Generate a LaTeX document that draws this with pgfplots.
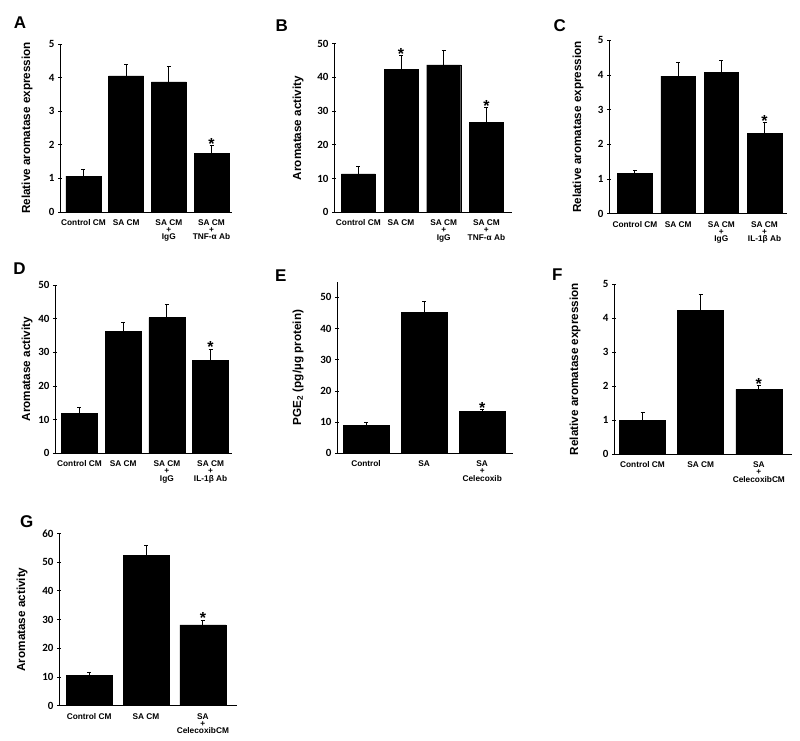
\documentclass[border=0pt]{standalone}
\usepackage{pgfplots}
\pgfplotsset{compat=1.18}
\usepackage{fontspec}
\setmainfont{Liberation Sans}
\newfontfamily\carlito{Carlito}
\begin{document}
\begin{tikzpicture}
\path (0pt,0pt) rectangle (800pt,-741pt);
\tikzset{
  lett/.style={font=\bfseries\fontsize{17}{17}\selectfont, anchor=center},
  star/.style={font=\bfseries\fontsize{16}{16}\selectfont, anchor=south, inner sep=0pt, yshift=-3.5pt},
}
\pgfplotsset{
  panel/.style={
    scale only axis,
    axis lines=left,
    axis line style={-, line width=0.9pt},
    ymin=0,
    xtick={1,2,3,4},
    xtick style={draw=none},
    ytick style={line width=0.8pt, black},
    tick align=center,
    major tick length=4pt,
    /pgf/number format/assume math mode=true,
    yticklabel style={font=\carlito\bfseries\fontsize{11}{11}\selectfont},
    xticklabel style={font=\bfseries\fontsize{8.3}{7.2}\selectfont, align=center},
    every axis y label/.style={at={(axis description cs:0,0.5)}, rotate=90, anchor=center, font=\bfseries\fontsize{11.7}{12}\selectfont},
    ybar,
  },
  bars/.style={fill=black, draw=black, bar width=#1,
    error bars/.cd, y dir=plus, y explicit,
    error bar style={line width=0.9pt, black},
    error mark options={rotate=90, mark size=2pt, line width=0.9pt, black}},
}

% Panel A
\begin{axis}[panel, at={(60pt,-212pt)}, anchor=south west, width=172pt, height=168pt,
  xmin=0.45, xmax=4.48, ymax=5, ytick={0,1,...,5},
  xticklabels={Control CM, SA CM, {SA CM\\+\\IgG}, {SA CM\\+\\TNF-α Ab}},
  ylabel={Relative aromatase expression},
  ylabel style={at={([xshift=-33pt]axis description cs:0,0.5)}}]
\addplot[bars=35pt] table[x=x, y=y, y error=e] {
x y e
1 1.07 0.20
2 4.05 0.33
3 3.87 0.46
4 1.75 0.22
};
\node[star] at (axis cs:4,1.97) {*};
\end{axis}
\node[lett] at (20pt,-23pt) {A};

% Panel B
\begin{axis}[panel, at={(334pt,-212.3pt)}, anchor=south west, width=178pt, height=168.6pt,
  xmin=0.43, xmax=4.6, ymax=50, ytick={0,10,...,50},
  xticklabels={Control CM, SA CM, {SA CM\\+\\IgG}, {SA CM\\+\\TNF-α Ab}},
  ylabel={Aromatase activity},
  ylabel style={at={([xshift=-36pt]axis description cs:0,0.5)}}]
\addplot[bars=34pt] table[x=x, y=y, y error=e] {
x y e
1 11.4 2.1
2 42.4 4.0
3 43.7 4.4
4 26.6 4.4
};
\node[star] at (axis cs:2,46.4) {*};
\node[star] at (axis cs:4,31.0) {*};
\end{axis}
\node[lett] at (281.7pt,-25.8pt) {B};

% Panel C
\begin{axis}[panel, at={(609pt,-213.7pt)}, anchor=south west, width=178pt, height=173.4pt,
  xmin=0.4, xmax=4.52, ymax=5, ytick={0,1,...,5},
  xticklabels={Control CM, SA CM, {SA CM\\+\\IgG}, {SA CM\\+\\IL-1β Ab}},
  ylabel={Relative aromatase expression},
  ylabel style={at={([xshift=-31pt]axis description cs:0,0.5)}}]
\addplot[bars=34.5pt] table[x=x, y=y, y error=e] {
x y e
1 1.17 0.08
2 3.97 0.38
3 4.07 0.35
4 2.32 0.30
};
\node[star] at (axis cs:4,2.62) {*};
\end{axis}
\node[lett] at (559.7pt,-25.8pt) {C};

% Panel D
\begin{axis}[panel, at={(55pt,-453.3pt)}, anchor=south west, width=177pt, height=168.3pt,
  xmin=0.44, xmax=4.49, ymax=50, ytick={0,10,...,50},
  xticklabels={Control CM, SA CM, {SA CM\\+\\IgG}, {SA CM\\+\\IL-1β Ab}},
  ylabel={Aromatase activity},
  ylabel style={at={([xshift=-28pt]axis description cs:0,0.5)}}]
\addplot[bars=36pt] table[x=x, y=y, y error=e] {
x y e
1 11.8 1.8
2 36.3 2.7
3 40.3 4.0
4 27.7 3.2
};
\node[star] at (axis cs:4,30.9) {*};
\end{axis}
\node[lett] at (19.5pt,-268.7pt) {D};

% Panel E
\begin{axis}[panel, at={(337pt,-453.3pt)}, anchor=south west, width=176pt, height=171.6pt,
  xmin=0.5, xmax=3.53, ymax=55, ytick={0,10,...,50}, xtick={1,2,3},
  xticklabels={Control, SA, {SA\\+\\Celecoxib}},
  ylabel={PGE\textsubscript{2} (pg/µg protein)},
  ylabel style={at={([xshift=-39pt]axis description cs:0,0.5)}}]
\addplot[bars=46pt] table[x=x, y=y, y error=e] {
x y e
1 8.9 1.1
2 45.2 3.4
3 13.4 0.5
};
\node[star] at (axis cs:3,13.9) {*};
\end{axis}
\node[lett] at (280.7pt,-275.5pt) {E};

% Panel F
\begin{axis}[panel, at={(614pt,-454.3pt)}, anchor=south west, width=178pt, height=170.3pt,
  xmin=0.51, xmax=3.57, ymax=5, ytick={0,1,...,5}, xtick={1,2,3},
  xticklabels={Control CM, SA CM, {SA\\+\\CelecoxibCM}},
  ylabel={Relative aromatase expression},
  ylabel style={at={([xshift=-39pt]axis description cs:0,0.5)}}]
\addplot[bars=46pt] table[x=x, y=y, y error=e] {
x y e
1 0.99 0.25
2 4.23 0.47
3 1.91 0.10
};
\node[star] at (axis cs:3,2.01) {*};
\end{axis}
\node[lett] at (557.3pt,-274.7pt) {F};

% Panel G
\begin{axis}[panel, at={(59pt,-705.7pt)}, anchor=south west, width=178pt, height=172.4pt,
  xmin=0.47, xmax=3.6, ymax=60, ytick={0,10,...,60}, xtick={1,2,3},
  xticklabels={Control CM, SA CM, {SA\\+\\CelecoxibCM}},
  ylabel={Aromatase activity},
  ylabel style={at={([xshift=-37pt]axis description cs:0,0.5)}}]
\addplot[bars=46pt] table[x=x, y=y, y error=e] {
x y e
1 10.6 1.1
2 52.3 3.4
3 28.1 1.5
};
\node[star] at (axis cs:3,29.6) {*};
\end{axis}
\node[lett] at (26.7pt,-521.3pt) {G};
\end{tikzpicture}
\end{document}
